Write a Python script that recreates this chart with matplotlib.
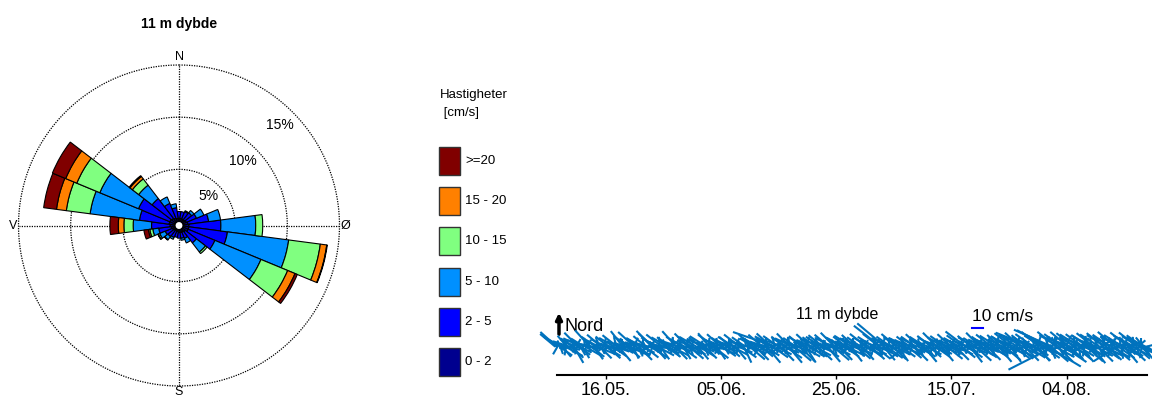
import numpy as np
import pandas as pd
import matplotlib
matplotlib.use('Agg')
import matplotlib.pyplot as plt
import matplotlib.dates as mdates
from matplotlib.collections import LineCollection
from matplotlib.patches import Rectangle

plt.rcParams['font.family'] = ['Liberation Sans', 'DejaVu Sans']

# --- current rose: 15 degree sectors (direction towards), frequency in %
sectors = np.arange(0, 360, 15)
class_labels = ['0 - 2', '2 - 5', '5 - 10', '10 - 15', '15 - 20', '>=20']
class_colors = ['#00008f', '#0000ff', '#0090ff', '#80ff80', '#ff8000', '#800000']

freq_0_2 = [0.29, 0.29, 0.29, 0.29, 0.38, 0.48, 0.57, 0.57, 0.57, 0.38, 0.29, 0.29,
            0.29, 0.19, 0.19, 0.19, 0.29, 0.38, 0.48, 0.57, 0.57, 0.48, 0.38, 0.29]
freq_2_5 = [0.67, 0.67, 0.76, 0.86, 1.05, 2.00, 3.06, 3.73, 2.77, 1.34, 0.67, 0.57,
            0.54, 0.57, 0.67, 0.77, 0.76, 1.20, 1.77, 2.87, 3.25, 2.39, 1.53, 1.05]
freq_5_10 = [0, 0, 0.10, 0.28, 0.77, 1.15, 3.34, 5.92, 4.78, 1.10, 0.47, 0.19,
             0, 0, 0.19, 0.38, 0.57, 0.57, 1.76, 4.77, 4.01, 1.62, 0.67, 0.38]
freq_10_15 = [0, 0, 0, 0, 0, 0, 0.67, 3.06, 2.77, 0.19, 0, 0,
              0, 0, 0, 0.05, 0.15, 0.29, 0.89, 2.30, 2.39, 0.76, 0, 0]
freq_15_20 = [0, 0, 0, 0, 0, 0, 0, 0.62, 0.76, 0, 0, 0,
              0, 0, 0, 0, 0.04, 0.14, 0.54, 0.95, 1.15, 0.29, 0, 0]
freq_20 = [0, 0, 0, 0, 0, 0, 0, 0.05, 0.24, 0, 0, 0,
           0, 0, 0, 0, 0, 0.43, 0.80, 1.24, 1.38, 0.10, 0, 0]
freqs = [freq_0_2, freq_2_5, freq_5_10, freq_10_15, freq_15_20, freq_20]

# --- current at 11 m, readings at 00/06/12/18 h: speed (cm/s), direction (deg, towards)
speed_a = [
    18, 20, 16, 14, 17, 12, 15, 18, 13, 11, 16, 15, 13, 17, 15, 14, 18, 12, 18, 12,
    14, 16, 17, 12, 20, 15, 11, 14, 16, 18, 12, 15, 17, 10, 14, 16, 16, 15, 13, 12,
    15, 16, 13, 17, 17, 13, 12, 18, 15, 11, 15, 17, 19, 13, 12, 20, 15, 12, 17, 15,
    13, 17, 16, 15, 12, 14, 18, 20, 18, 15, 16, 17, 12, 14, 18, 16, 11, 15, 17, 14,
    15, 17, 14, 16, 19, 12, 15, 18, 17, 13, 12, 16, 17, 17, 15, 14, 16, 12, 18, 15,
    16, 14, 12, 17, 15, 18, 14, 16, 11, 15, 17, 19, 14, 13, 16, 17, 15, 14, 12, 16,
    14, 15, 14, 16, 17, 15, 12, 14, 18, 17, 14, 16, 15, 12, 17, 18, 16, 14, 15, 17,
    16, 15, 18, 14, 17, 16, 15, 19, 14, 13, 18, 17, 20, 41, 15, 17, 18, 14, 16, 15,
    18, 16, 19, 17, 15, 18, 20, 14, 16, 17, 19, 15, 18, 16, 17, 14, 19, 17, 15, 16,
    17, 15, 18, 16, 14, 17, 17, 16, 15, 18, 17, 14, 16, 19, 18, 15, 14, 17, 16, 15,
    17, 16, 15, 18, 14, 17, 19, 15, 16, 17, 18, 14, 15, 16, 17, 18, 19, 15, 16, 17,
    15, 17, 18, 16, 14, 19, 31, 17, 16, 33, 18, 17, 15, 16, 17, 14, 15, 18, 16, 17,
    16, 15, 17, 17, 18, 16, 15, 14, 17, 18, 16, 17, 15, 17, 16, 14, 18, 17, 15, 16,
    14, 16, 15, 17, 16, 18, 14, 15, 17, 16, 13, 17, 18, 15, 14, 17, 16, 15, 17, 14,
    15, 17, 16, 18, 14, 23, 17, 15, 18, 16, 14, 17, 19, 15, 16, 18, 17, 15, 14, 16,
    17, 15, 14, 18, 16, 17, 15, 19, 18, 16, 17, 15, 19, 17, 16, 18, 17, 20, 18, 16,
    18, 20, 17, 19, 16, 21, 18, 17, 19, 18, 34, 17, 20, 19, 18, 17, 21, 16, 19, 18,
    19, 17, 35, 33, 21, 38, 46, 20, 22, 19, 21, 18, 20, 25, 19, 18, 21, 17, 20, 18,
    20, 19, 18, 17, 21, 18, 19, 17, 19, 20, 18, 17, 21, 19, 20, 18, 17, 19, 21, 18,
    19, 20, 18, 21, 17, 19, 20, 18, 19, 21, 25, 18, 20, 17, 20, 19, 18, 17, 21, 19,
    19, 18, 20, 17, 21, 18, 19, 20, 18, 17, 19, 18,
]
direction_a = [
    310, 312, 305, 125, 300, 140, 292, 118, 320, 105, 288, 132, 305, 150, 296, 110, 315, 128, 295, 150,
    302, 120, 290, 100, 318, 128, 282, 145, 305, 112, 298, 135, 310, 95, 300, 122, 131, 308, 115, 285,
    125, 300, 110, 308, 140, 292, 118, 322, 105, 288, 130, 305, 115, 298, 155, 312, 120, 290, 135, 302,
    115, 296, 128, 310, 100, 285, 122, 316, 312, 138, 302, 118, 295, 145, 308, 112, 280, 125, 300, 132,
    305, 118, 292, 135, 318, 108, 288, 125, 302, 150, 296, 115, 315, 130, 308, 120, 290, 105, 300, 140,
    122, 308, 112, 295, 135, 302, 118, 320, 100, 285, 128, 305, 145, 298, 115, 312, 125, 290, 110, 300,
    130, 296, 310, 118, 302, 140, 288, 112, 308, 125, 298, 155, 305, 105, 285, 130, 315, 118, 300, 135,
    302, 115, 295, 130, 310, 120, 288, 140, 305, 112, 312, 125, 298, 289, 118, 305, 135, 292, 110, 308,
    125, 300, 140, 315, 115, 295, 130, 305, 110, 288, 135, 310, 120, 302, 148, 296, 118, 312, 128, 290,
    118, 305, 132, 295, 112, 302, 308, 125, 288, 140, 310, 115, 298, 130, 315, 120, 285, 135, 302, 110,
    298, 125, 308, 118, 290, 142, 302, 112, 312, 130, 295, 120, 305, 138, 288, 115, 308, 125, 300, 132,
    118, 302, 128, 292, 112, 308, 308, 122, 140, 310, 125, 298, 115, 305, 132, 290, 118, 310, 145, 300,
    125, 302, 115, 232, 296, 130, 308, 112, 290, 135, 305, 298, 120, 312, 125, 298, 140, 302, 118, 292,
    132, 308, 112, 300, 125, 315, 118, 290, 140, 302, 115, 305, 128, 296, 120, 312, 108, 292, 135, 302,
    118, 298, 128, 305, 112, 307, 125, 290, 142, 308, 115, 300, 132, 302, 120, 315, 125, 296, 110, 305,
    135, 298, 118, 308, 125, 290, 115, 302, 140, 312, 120, 296, 130, 305, 112, 300, 145, 308, 125, 292,
    120, 302, 130, 312, 115, 298, 135, 308, 122, 300, 292, 118, 305, 132, 290, 140, 310, 112, 302, 125,
    302, 120, 121, 297, 130, 294, 243, 118, 308, 135, 300, 115, 305, 124, 296, 125, 310, 132, 290, 118,
    308, 128, 298, 120, 302, 140, 307, 115, 292, 132, 305, 122, 300, 142, 308, 118, 290, 135, 302, 112,
    125, 308, 118, 300, 135, 305, 120, 296, 130, 310, 238, 125, 297, 115, 302, 140, 292, 120, 308, 132,
    302, 118, 298, 130, 308, 112, 300, 136, 305, 120, 296, 125,
]
# readings at 03/09/15/21 h (around slack water)
speed_b = [
    6, 8, 5, 7, 9, 4, 6, 8, 5, 7, 6, 9, 4, 7, 8, 5, 6, 9, 7, 5,
    8, 5, 7, 6, 9, 4, 7, 8, 6, 5, 9, 7, 4, 6, 8, 7, 5, 9, 6, 8,
    5, 7, 9, 6, 4, 8, 7, 5, 9, 6, 7, 8, 5, 6, 9, 4, 7, 8, 6, 5,
    7, 9, 6, 5, 8, 7, 4, 9, 6, 8, 5, 7, 9, 6, 4, 8, 7, 5, 9, 6,
    9, 6, 8, 7, 5, 9, 6, 4, 8, 7, 6, 9, 5, 8, 7, 6, 9, 4, 7, 8,
    6, 8, 5, 9, 7, 6, 8, 5, 7, 9, 4, 6, 8, 7, 5, 9, 6, 8, 7, 5,
    8, 5, 7, 6, 9, 8, 5, 7, 6, 4, 9, 7, 8, 6, 5, 7, 9, 6, 8, 7,
    7, 9, 6, 8, 5, 7, 9, 6, 4, 8, 7, 5, 9, 6, 8, 7, 5, 9, 6, 8,
    9, 7, 8, 6, 9, 5, 7, 8, 6, 9, 7, 5, 8, 6, 9, 7, 8, 5, 9, 6,
    6, 8, 9, 7, 5, 8, 6, 9, 7, 5, 8, 9, 6, 7, 8, 5, 9, 7, 6, 8,
    8, 6, 9, 5, 7, 9, 8, 6, 7, 9, 5, 8, 6, 9, 7, 8, 6, 5, 9, 7,
    7, 9, 6, 8, 9, 7, 5, 8, 9, 6, 7, 9, 8, 5, 7, 6, 9, 8, 7, 6,
    9, 7, 8, 6, 5, 9, 7, 8, 6, 9, 8, 5, 7, 9, 6, 8, 7, 9, 5, 8,
    6, 8, 7, 9, 6, 5, 8, 7, 9, 6, 8, 7, 5, 9, 8, 6, 7, 9, 8, 6,
    8, 9, 6, 7, 8, 9, 5, 7, 6, 8, 9, 7, 8, 6, 9, 5, 8, 7, 9, 6,
    7, 8, 9, 6, 8, 7, 9, 5, 8, 9, 6, 8, 7, 9, 6, 8, 9, 7, 5, 8,
    9, 8, 7, 10, 8, 9, 6, 8, 10, 7, 9, 8, 6, 9, 10, 8, 7, 9, 8, 10,
    10, 8, 9, 12, 10, 11, 9, 8, 10, 9, 7, 10, 8, 9, 11, 8, 10, 9, 8, 10,
    9, 10, 8, 9, 11, 8, 10, 9, 7, 10, 9, 11, 8, 10, 9, 8, 11, 9, 10, 8,
    10, 9, 11, 8, 10, 9, 8, 11, 10, 9, 10, 8, 9, 11, 10, 8, 9, 10, 11, 9,
    9, 10, 8, 11, 9, 10, 8, 9, 11, 10, 9, 8,
]
direction_b = [
    20, 210, 340, 160, 45, 250, 0, 190, 330, 140, 70, 260, 350, 175, 30, 225, 315, 150, 60, 240,
    355, 200, 25, 165, 320, 135, 80, 270, 10, 185, 340, 150, 55, 230, 5, 195, 325, 145, 75, 255,
    15, 180, 345, 160, 40, 245, 0, 205, 330, 130, 65, 265, 350, 170, 25, 220, 310, 155, 85, 250,
    5, 190, 335, 165, 50, 240, 20, 200, 320, 140, 70, 275, 355, 180, 30, 230, 340, 150, 60, 260,
    10, 195, 350, 170, 35, 235, 0, 210, 325, 135, 80, 255, 345, 160, 20, 215, 315, 145, 65, 245,
    25, 205, 340, 155, 45, 260, 5, 185, 330, 140, 75, 270, 355, 175, 35, 225, 320, 150, 55, 240,
    0, 190, 345, 165, 30, 250, 15, 200, 335, 130, 70, 265, 350, 180, 25, 220, 310, 145, 80, 255,
    20, 210, 330, 160, 40, 235, 0, 195, 325, 150, 65, 260, 345, 170, 30, 230, 340, 140, 60, 250,
    10, 200, 355, 155, 50, 245, 20, 185, 320, 135, 75, 275, 340, 165, 15, 215, 330, 150, 70, 240,
    5, 195, 345, 175, 35, 255, 10, 205, 330, 145, 80, 260, 355, 160, 25, 225, 315, 130, 65, 250,
    15, 185, 335, 165, 45, 240, 0, 210, 325, 140, 70, 270, 350, 175, 30, 220, 340, 155, 60, 245,
    20, 200, 350, 150, 40, 260, 5, 190, 320, 135, 75, 255, 345, 170, 20, 230, 325, 145, 85, 250,
    0, 205, 340, 160, 55, 235, 15, 195, 335, 150, 65, 265, 355, 165, 35, 215, 310, 140, 70, 245,
    10, 190, 345, 170, 30, 250, 20, 200, 325, 130, 80, 260, 350, 180, 25, 225, 330, 150, 60, 255,
    25, 195, 335, 155, 45, 240, 0, 210, 320, 145, 70, 275, 340, 160, 15, 220, 315, 135, 75, 250,
    5, 200, 350, 165, 40, 255, 10, 185, 330, 140, 65, 260, 355, 175, 30, 230, 335, 150, 55, 240,
    15, 210, 345, 160, 50, 245, 0, 195, 325, 135, 75, 265, 350, 170, 20, 225, 320, 145, 80, 250,
    20, 190, 340, 155, 35, 260, 5, 205, 330, 150, 70, 255, 345, 165, 25, 215, 315, 140, 65, 245,
    0, 200, 355, 170, 45, 235, 15, 190, 320, 130, 80, 270, 350, 160, 30, 230, 340, 155, 60, 250,
    10, 195, 335, 165, 40, 250, 20, 210, 325, 145, 65, 260, 355, 175, 25, 220, 330, 135, 70, 255,
    5, 205, 345, 160, 50, 240, 0, 195, 320, 150, 75, 265,
]
start_a = pd.Timestamp('2019-05-07 06:00')
start_b = pd.Timestamp('2019-05-07 09:00')
date_ticks = ['2019-05-16', '2019-06-05', '2019-06-25', '2019-07-15', '2019-08-04']

W, H = 1152, 403
fig = plt.figure(figsize=(W / 100, H / 100), dpi=100)

# overlay in pixel units for title, legend and annotations
ov = fig.add_axes([0, 0, 1, 1])
ov.set_xlim(0, W)
ov.set_ylim(H, 0)
ov.axis('off')

# ---------------- rose ----------------
ax = fig.add_axes([18.5 / W, 17 / H, 321 / W, 321 / H], projection='polar')
ax.set_theta_zero_location('N')
ax.set_theta_direction(-1)
ax.set_ylim(0, 15)
ax.set_rorigin(-0.383)
ax.grid(False)
ax.set_xticks([])
ax.set_yticks([])
for sp in ax.spines.values():
    sp.set_visible(False)

dots = (0, (1, 1))
tt = np.linspace(0, 2 * np.pi, 500)
for r in (5, 10, 15):
    ax.plot(tt, np.full_like(tt, r), color='k', lw=0.9, ls=dots, zorder=1, clip_on=False)
for a in (0, 90, 180, 270):
    ax.plot([np.deg2rad(a)] * 2, [0, 15], color='k', lw=0.9, ls=dots, zorder=1)

theta = np.deg2rad(sectors)
bottom = np.zeros(len(sectors))
for vals, col in zip(freqs, class_colors):
    vals = np.asarray(vals, dtype=float)
    m = vals > 0
    ax.bar(theta[m], vals[m], width=np.deg2rad(15), bottom=bottom[m], color=col,
           edgecolor='black', linewidth=0.8, zorder=3)
    bottom += vals

ax.text(0, 15.2, 'N', ha='center', va='bottom', fontsize=9)
ax.text(np.pi, 15.0, 'S', ha='center', va='top', fontsize=9)
ax.text(np.deg2rad(270), 15.1, 'V', ha='right', va='center', fontsize=9)
ax.text(np.deg2rad(90), 15.1, 'Ø', ha='left', va='center', fontsize=9)
for r, lab in zip((3.67, 8.33, 13.3), ('5%', '10%', '15%')):
    ax.text(np.deg2rad(45), r, lab, ha='center', va='center', fontsize=10, zorder=5)

ov.text(179, 24, '11 m dybde', ha='center', va='center', fontsize=10, fontweight='bold')

# ---------------- legend ----------------
ov.text(440, 95, 'Hastigheter', ha='left', va='center', fontsize=9.5)
ov.text(440, 113, ' [cm/s]', ha='left', va='center', fontsize=9.5)
for k, (lab, col) in enumerate(zip(class_labels[::-1], class_colors[::-1])):
    y0 = 146.7 + k * 40.3
    ov.add_patch(Rectangle((438.5, y0), 21.5, 28, facecolor=col, edgecolor='#333333', lw=1))
    ov.text(465, y0 + 14, lab, ha='left', va='center', fontsize=9.5)

# ---------------- stick plot ----------------
t0 = mdates.date2num(pd.Timestamp('2019-05-16'))
xmin, xmax = t0 - 8.4, t0 + 80 + 13.92
ax_w, ax_h = 589.4, 75.0
ymin = -28.3 / 1.1
ymax = ymin + ax_h / 1.1
sx = fig.add_axes([557.3 / W, 28 / H, ax_w / W, ax_h / H])
sx.set_xlim(xmin, xmax)
sx.set_ylim(ymin, ymax)
sx.patch.set_alpha(0)
px_day = ax_w / (xmax - xmin)
px_cms = ax_h / (ymax - ymin)


def sticks(start, spd, dirs):
    times = mdates.date2num(pd.date_range(start, periods=len(spd), freq='6h'))
    s = np.asarray(spd, dtype=float)
    rad = np.deg2rad(np.asarray(dirs, dtype=float))
    u, v = s * np.sin(rad), s * np.cos(rad)
    return [[(t, 0), (t + uu * px_cms / px_day, vv)] for t, uu, vv in zip(times, u, v)]


segs = sticks(start_a, speed_a, direction_a) + sticks(start_b, speed_b, direction_b)
lc = LineCollection(segs, colors='#0072bd', linewidths=1.5)
lc.set_clip_on(False)
sx.add_collection(lc)

for s in ('top', 'right', 'left'):
    sx.spines[s].set_visible(False)
sx.spines['bottom'].set_linewidth(1.5)
sx.set_yticks([])
sx.set_xticks(mdates.date2num(pd.to_datetime(date_ticks)))
sx.xaxis.set_major_formatter(mdates.DateFormatter('%d.%m.'))
sx.tick_params(axis='x', length=3, width=1, labelsize=13, pad=2)

# scale bar 10 cm/s
xb = t0 + 63.54
sx.plot([xb, xb + 10 * px_cms / px_day], [16.7, 16.7], color='#0000ff', lw=1.5, clip_on=False)
ov.text(971.7, 316.7, '10 cm/s', ha='left', va='center', fontsize=12.5)
ov.text(836.7, 315, '11 m dybde', ha='center', va='center', fontsize=11.5)
ov.text(565, 326.7, 'Nord', ha='left', va='center', fontsize=13)
ov.annotate('', xy=(559, 310), xytext=(559, 337),
            arrowprops=dict(arrowstyle='-|>', lw=2.5, color='black', mutation_scale=9))

fig.savefig('out.png', dpi=100)
